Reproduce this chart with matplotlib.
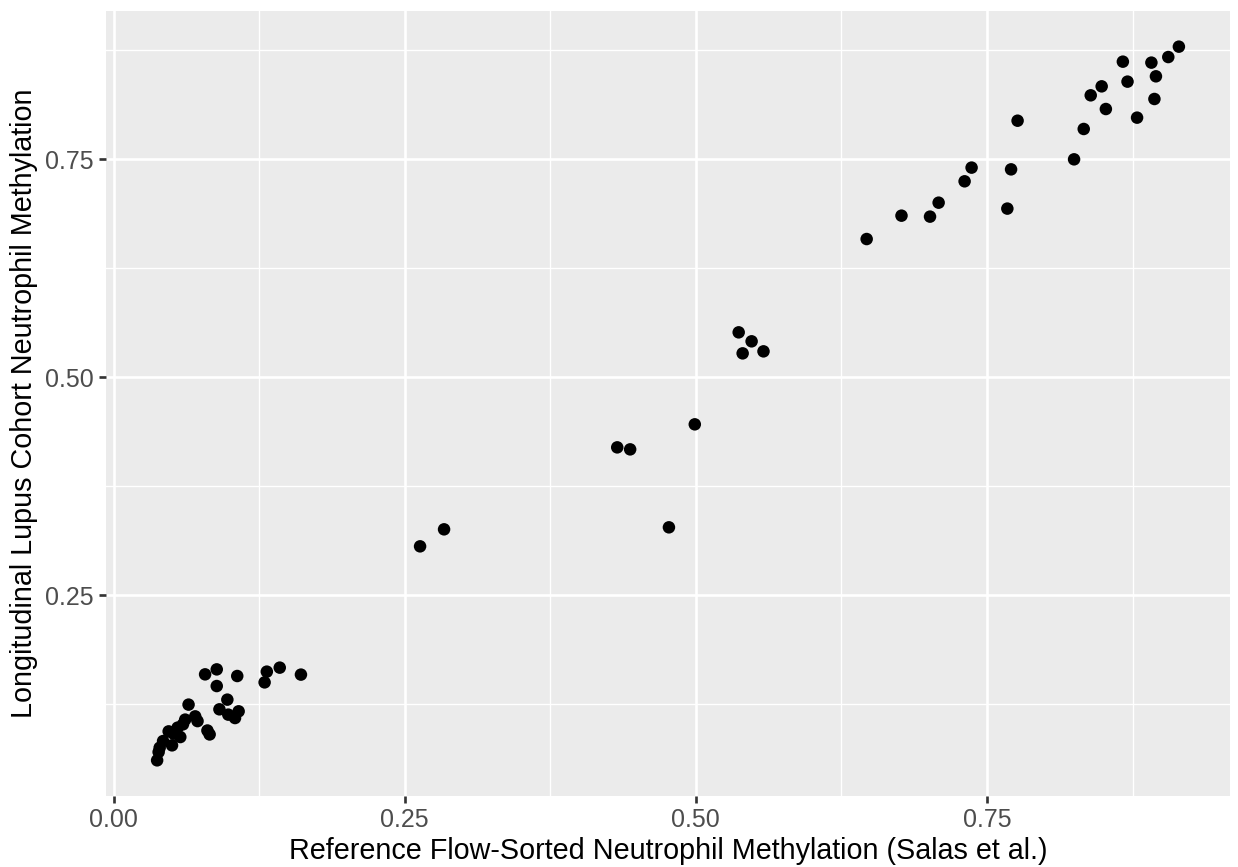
import matplotlib
matplotlib.use("Agg")
import matplotlib.pyplot as plt
from matplotlib.ticker import FixedLocator

plt.rcParams['font.family'] = ['Liberation Sans', 'DejaVu Sans']

ref_x = [0.0374, 0.0387, 0.0396, 0.0425, 0.0473, 0.0502, 0.0515, 0.0550, 0.0573, 0.0596,
         0.0615, 0.0644, 0.0701, 0.0721, 0.0786, 0.0806, 0.0825, 0.0886, 0.0886, 0.0909,
         0.0977, 0.0985, 0.1043, 0.1062, 0.1074, 0.1297, 0.1316, 0.1427, 0.1609,
         0.2632, 0.2838, 0.4325, 0.4436, 0.4769, 0.4991, 0.5368, 0.5479, 0.5402, 0.5581,
         0.6467, 0.6766, 0.7011, 0.7085, 0.7308, 0.7368, 0.7675, 0.7707, 0.7763,
         0.8248, 0.8331, 0.8391, 0.8485, 0.8521, 0.8667, 0.8707, 0.8789, 0.8912,
         0.8938, 0.8951, 0.9057, 0.9148]
lupus_y = [0.0608, 0.0703, 0.0753, 0.0829, 0.0940, 0.0780, 0.0914, 0.0983, 0.0875, 0.1021,
           0.1075, 0.1247, 0.1112, 0.1058, 0.1594, 0.0950, 0.0905, 0.1651, 0.1460, 0.1193,
           0.1304, 0.1132, 0.1093, 0.1575, 0.1170, 0.1502, 0.1625, 0.1671, 0.1591,
           0.3062, 0.3257, 0.4197, 0.4174, 0.3280, 0.4461, 0.5516, 0.5413, 0.5275, 0.5298,
           0.6586, 0.6854, 0.6843, 0.7003, 0.7248, 0.7405, 0.6935, 0.7385, 0.7943,
           0.7500, 0.7848, 0.8234, 0.8337, 0.8077, 0.8620, 0.8391, 0.7978, 0.8609,
           0.8192, 0.8452, 0.8673, 0.8792]

major_ticks = [0.00, 0.25, 0.50, 0.75]
x_tick_labels = ["0.00", "0.25", "0.50", "0.75"]
y_major = [0.25, 0.50, 0.75]
y_tick_labels = ["0.25", "0.50", "0.75"]
minor_ticks = [0.125, 0.375, 0.625, 0.875]

DPI = 180
fig = plt.figure(figsize=(1238 / DPI, 867 / DPI), dpi=DPI)
W, H = 1238, 867
left, right, top, bottom = 106, 1230, 11, 796
ax = fig.add_axes([left / W, (H - bottom) / H, (right - left) / W, (bottom - top) / H])
ax.set_facecolor('#EBEBEB')

ax.scatter(ref_x, lupus_y, s=25, color='black', edgecolors='none', zorder=3)

ax.set_xlim(-0.0065, 0.9587)
ax.set_ylim(0.0199, 0.9201)

ax.xaxis.set_major_locator(FixedLocator(major_ticks))
ax.set_xticklabels(x_tick_labels)
ax.yaxis.set_major_locator(FixedLocator(y_major))
ax.set_yticklabels(y_tick_labels)
ax.xaxis.set_minor_locator(FixedLocator(minor_ticks))
ax.yaxis.set_minor_locator(FixedLocator(minor_ticks))

ax.grid(which='major', color='white', linewidth=1.07, zorder=1)
ax.grid(which='minor', color='white', linewidth=0.53, zorder=1)
ax.set_axisbelow(True)
for s in ax.spines.values():
    s.set_visible(False)

ax.tick_params(which='major', length=2.75, width=1.07, color='#333333',
               labelsize=10, labelcolor='#4D4D4D', pad=2.0)
ax.tick_params(which='minor', length=0)

ax.set_xlabel("Reference Flow-Sorted Neutrophil Methylation (Salas et al.)",
              fontsize=11.5, color='black', labelpad=2.0)
ax.set_ylabel("Longitudinal Lupus Cohort Neutrophil Methylation",
              fontsize=11.5, color='black', labelpad=3)

fig.savefig("out.png", dpi=DPI, facecolor='white')
